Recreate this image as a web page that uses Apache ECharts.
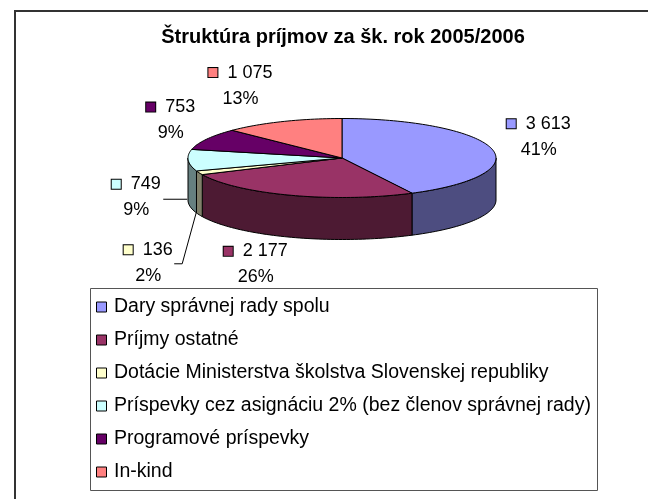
<!DOCTYPE html>
<html><head><meta charset="utf-8">
<script src="https://cdn.jsdelivr.net/npm/echarts@6/dist/echarts.min.js"></script>
<style>html,body{margin:0;padding:0;background:#fff}#c{width:648px;height:499px}</style>
</head><body><div id="c"></div>
<script>
const categories = ['Dary správnej rady spolu', 'Príjmy ostatné', 'Dotácie Ministerstva školstva Slovenskej republiky', 'Príspevky cez asignáciu 2% (bez členov správnej rady)', 'Programové príspevky', 'In-kind'];
const values = [3613, 2177, 136, 749, 753, 1075];
const percentLabels = ['41%', '26%', '2%', '9%', '9%', '13%'];
const topColors = ['#9999FF', '#993366', '#FFFFCC', '#CCFFFF', '#660066', '#FF8080'];
const sideColors = ['#4D4D80', '#4D1A33', '#80806A', '#668080', '#330033', '#804040'];

// layout (not data)
const FONT = 'Liberation Sans, Arial, sans-serif';
const PIE = {cx: 342, cy: 158, rx: 154, ry: 39.5, depth: 42};
const labelOffsets = [[47, -12], [-36, 27], [-51, 48], [-52, -5], [-36, -19], [-42, -36]];
const leaders = [null, null, [[-3, -2], [-17, 49], [-25, 49]], [[-1, -3], [-25, -3]], null, null];

const total = values.reduce((a, b) => a + b, 0);
const starts = []; let acc = 0;
values.forEach(v => { starts.push(acc / total * 360); acc += v; });
function fmt(v) { return String(v).replace(/\B(?=(\d{3})+(?!\d))/g, ' '); }
function pt(deg, dy) { const r = deg * Math.PI / 180; return [PIE.cx + PIE.rx * Math.sin(r), PIE.cy - PIE.ry * Math.cos(r) + (dy || 0)]; }
function arc(a, b, dy) { const pts = []; const n = Math.max(2, Math.ceil((b - a) / 1.5)); for (let i = 0; i <= n; i++) pts.push(pt(a + (b - a) * i / n, dy)); return pts; }

function renderSlice(params, api) {
  const i = params.seriesIndex;
  const v = api.value(0);
  const a0 = starts[i], a1 = a0 + v / total * 360;
  const children = [];
  children.push({type: 'polygon', z2: 10, shape: {points: [[PIE.cx, PIE.cy]].concat(arc(a0, a1))},
    style: {fill: topColors[i], stroke: '#000', lineWidth: 1}});
  const s = Math.max(a0, 90), e = Math.min(a1, 270);
  if (e > s) {
    const top = arc(s, e), bot = arc(s, e, PIE.depth).reverse();
    children.push({type: 'polygon', z2: 5, shape: {points: top.concat(bot)},
      style: {fill: sideColors[i], stroke: '#000', lineWidth: 1}});
  }
  const mid = (a0 + a1) / 2;
  const front = Math.cos(mid * Math.PI / 180) < 0;
  const A = pt(mid, front ? PIE.depth : 0);
  const off = labelOffsets[i];
  children.push({type: 'text', z2: 20, x: A[0] + off[0], y: A[1] + off[1],
    style: {text: '{sq|}{n|  ' + fmt(v) + '}\n{p|' + percentLabels[i] + '}', align: 'center', verticalAlign: 'middle',
      rich: {
        sq: {width: 9, height: 9, backgroundColor: topColors[i], borderColor: '#000', borderWidth: 1, lineHeight: 26},
        n: {fontSize: 18, lineHeight: 26, fontFamily: FONT, fill: '#000'},
        p: {fontSize: 18, lineHeight: 26, fontFamily: FONT, fill: '#000'}
      }}});
  if (leaders[i]) {
    children.push({type: 'polyline', z2: 20, shape: {points: leaders[i].map(p => [A[0] + p[0], A[1] + p[1]])},
      style: {stroke: '#000', lineWidth: 1, fill: null}});
  }
  return {type: 'group', children};
}

const chart = echarts.init(document.getElementById('c'), null, {renderer: 'canvas'});
chart.setOption({
  backgroundColor: '#fff',
  animation: false,
  title: {text: 'Štruktúra príjmov za šk. rok 2005/2006', left: 343, textAlign: 'center', top: 27, padding: 0,
    textStyle: {fontSize: 20, fontWeight: 'bold', color: '#000', fontFamily: FONT}},
  legend: {orient: 'vertical', left: 96, top: 297, padding: 0, itemGap: 13, itemWidth: 15, itemHeight: 10,
    icon: 'path://M0,0H10V10H0Z', itemStyle: {borderColor: '#000', borderWidth: 1},
    textStyle: {fontSize: 19.5, lineHeight: 19, color: '#000', fontFamily: FONT},
    data: categories, selectedMode: false},
  graphic: [
    {type: 'rect', shape: {x: 15, y: 11, width: 700, height: 600}, style: {fill: null, stroke: '#333', lineWidth: 2}, silent: true},
    {type: 'rect', shape: {x: 90.5, y: 288.5, width: 507, height: 202}, style: {fill: null, stroke: '#555', lineWidth: 1}, silent: true}
  ],
  series: categories.map((name, i) => ({
    type: 'custom', name, coordinateSystem: 'none', renderItem: renderSlice,
    data: [values[i]], itemStyle: {color: topColors[i]}, silent: true
  }))
});
</script></body></html>
